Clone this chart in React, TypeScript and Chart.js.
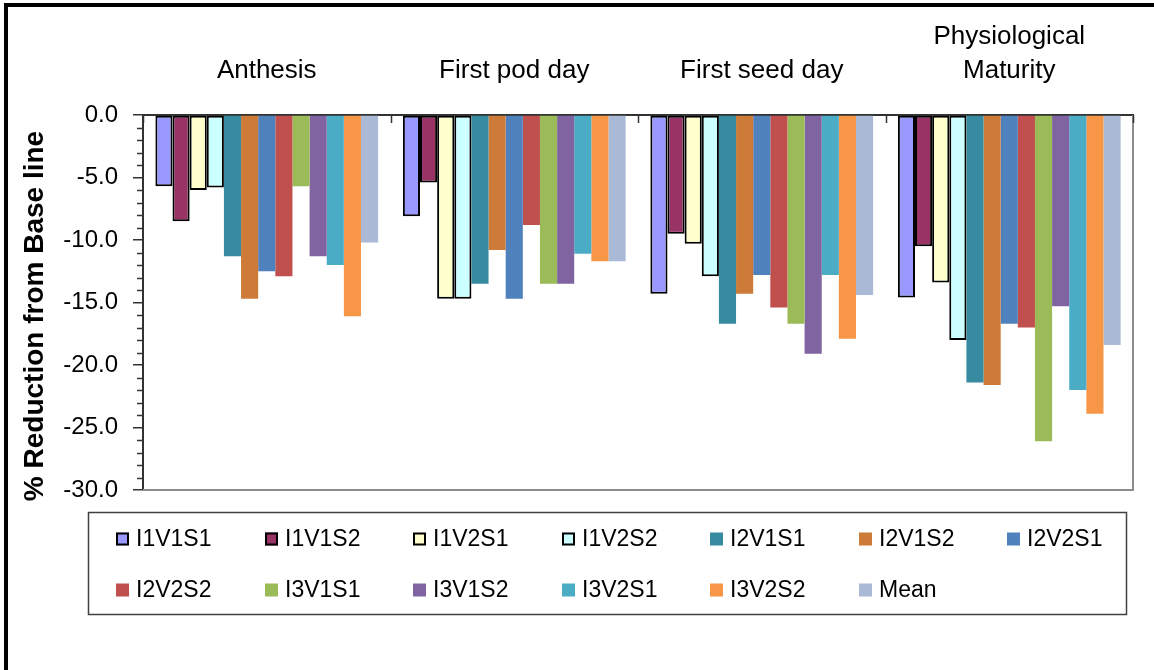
import React, { useEffect, useRef } from "react";
import { Chart, registerables } from "chart.js";

Chart.register(...registerables);

const categories: (string | string[])[] = [
  "Anthesis",
  "First pod day",
  "First seed day",
  ["Physiological", "Maturity"],
];

const seriesNames = [
  "I1V1S1", "I1V1S2", "I1V2S1", "I1V2S2", "I2V1S1", "I2V1S2", "I2V2S1",
  "I2V2S2", "I3V1S1", "I3V1S2", "I3V2S1", "I3V2S2", "Mean",
];

const I1V1S1 = [-5.7, -8.1, -14.3, -14.6];
const I1V1S2 = [-8.5, -5.4, -9.5, -10.5];
const I1V2S1 = [-6.0, -14.7, -10.3, -13.4];
const I1V2S2 = [-5.8, -14.7, -12.9, -18.0];
const I2V1S1 = [-11.3, -13.5, -16.7, -21.4];
const I2V1S2 = [-14.7, -10.8, -14.3, -21.6];
const I2V2S1 = [-12.5, -14.7, -12.8, -16.7];
const I2V2S2 = [-12.9, -8.8, -15.4, -17.0];
const I3V1S1 = [-5.7, -13.5, -16.7, -26.1];
const I3V1S2 = [-11.3, -13.5, -19.1, -15.3];
const I3V2S1 = [-12.0, -11.1, -12.8, -22.0];
const I3V2S2 = [-16.1, -11.7, -17.9, -23.9];
const Mean = [-10.2, -11.7, -14.4, -18.4];

const seriesValues = [
  I1V1S1, I1V1S2, I1V2S1, I1V2S2, I2V1S1, I2V1S2, I2V2S1,
  I2V2S2, I3V1S1, I3V1S2, I3V2S1, I3V2S2, Mean,
];

const seriesColors = [
  "#9999FF", "#993366", "#FFFFCC", "#CCFFFF", "#378BA0", "#CC7B38", "#4F81BD",
  "#C0504D", "#9BBB59", "#8064A2", "#4BACC6", "#F79646", "#A9B9D6",
];

const outlined = [true, true, true, true, false, false, false, false, false, false, false, false, false];

const yMin = -30;
const yMax = 0;
const yStep = 5;
const yTitle = "% Reduction from Base line";

const FONT = "'Liberation Sans', Arial, sans-serif";

const decorPlugin = {
  id: "decor",
  beforeDraw(chart: any) {
    const ctx = chart.ctx;
    ctx.save();
    ctx.fillStyle = "#ffffff";
    ctx.fillRect(0, 0, chart.width, chart.height);
    ctx.restore();
  },
  afterDraw(chart: any) {
    const ctx = chart.ctx;
    const area = chart.chartArea;
    const xs = chart.scales.x;
    const ys = chart.scales.y;
    ctx.save();

    // plot frame right and bottom
    ctx.strokeStyle = "#8c8c8c";
    ctx.lineWidth = 2;
    ctx.beginPath();
    ctx.moveTo(area.right, area.top);
    ctx.lineTo(area.right, area.bottom);
    ctx.lineTo(area.left, area.bottom);
    ctx.stroke();

    // minor y ticks
    ctx.strokeStyle = "#333333";
    ctx.lineWidth = 1.5;
    for (let v = yMin; v <= yMax; v += 1) {
      if (v % yStep === 0) continue;
      const py = Math.round(ys.getPixelForValue(v)) + 0.5;
      ctx.beginPath();
      ctx.moveTo(area.left - 6, py);
      ctx.lineTo(area.left, py);
      ctx.stroke();
    }

    // x ticks at category boundaries (pointing down)
    const n = categories.length;
    const cw = (area.right - area.left) / n;
    ctx.lineWidth = 1.5;
    for (let i = 0; i <= n; i++) {
      const px = Math.round(xs.getPixelForValue(i) - cw / 2) + 0.5;
      ctx.beginPath();
      ctx.moveTo(px, area.top);
      ctx.lineTo(px, area.top + 8);
      ctx.stroke();
    }

    // y title
    ctx.fillStyle = "#000000";
    ctx.font = `bold 28px ${FONT}`;
    ctx.textAlign = "center";
    ctx.textBaseline = "middle";
    ctx.translate(35, 316);
    ctx.rotate(-Math.PI / 2);
    ctx.fillText(yTitle, 0, 0);
    ctx.setTransform(1, 0, 0, 1, 0, 0);

    // legend
    const lx = 88, ly = 512, lw = 1038, lh = 102;
    ctx.strokeStyle = "#404040";
    ctx.lineWidth = 1.5;
    ctx.strokeRect(lx + 0.5, ly + 0.5, lw, lh);
    const cols = 7;
    const pitch = 148.5;
    const rowsY = [539, 590];
    ctx.font = `23px ${FONT}`;
    ctx.textAlign = "left";
    ctx.textBaseline = "middle";
    chart.data.datasets.forEach((ds: any, i: number) => {
      const col = i % cols;
      const row = Math.floor(i / cols);
      const bx = Math.round(116 + col * pitch);
      const by = rowsY[row];
      ctx.fillStyle = ds.backgroundColor;
      ctx.fillRect(bx, by - 6.5, 13, 13);
      if (ds.borderWidth > 0) {
        ctx.strokeStyle = "#000000";
        ctx.lineWidth = 2;
        ctx.strokeRect(bx + 1, by - 5.5, 11, 11);
      }
      ctx.fillStyle = "#000000";
      ctx.fillText(ds.label, bx + 20, by + 1);
    });

    // outer frame
    ctx.fillStyle = "#000000";
    ctx.fillRect(4, 3, 4, chart.height);
    ctx.fillRect(4, 3, chart.width, 4);

    ctx.restore();
  },
};

export default function App() {
  const ref = useRef<HTMLCanvasElement | null>(null);

  useEffect(() => {
    if (!ref.current) return;
    const datasets = seriesNames.map((name, i) => ({
      label: name,
      data: seriesValues[i],
      backgroundColor: seriesColors[i],
      borderColor: outlined[i] ? "#000000" : seriesColors[i],
      borderWidth: outlined[i] ? 2 : 0,
      borderSkipped: false as any,
      categoryPercentage: 0.9,
      barPercentage: 1.0,
    }));
    const chart = new Chart(ref.current, {
      type: "bar",
      data: { labels: categories as any, datasets },
      options: {
        responsive: false,
        animation: false,
        devicePixelRatio: 1,
        layout: { padding: { top: 0, left: 0, right: 21, bottom: 180 } },
        plugins: {
          legend: { display: false },
          tooltip: { enabled: false },
          title: { display: false },
        },
        scales: {
          x: {
            position: "top",
            offset: true,
            afterFit: (s: any) => { s.height = 115; },
            grid: { display: false, drawTicks: false, drawOnChartArea: false },
            border: { display: true, color: "#333333", width: 2 },
            ticks: {
              autoSkip: false,
              maxRotation: 0,
              minRotation: 0,
              padding: 27,
              color: "#000000",
              font: { family: FONT, size: 26, lineHeight: 1.3 },
            },
          },
          y: {
            min: yMin,
            max: yMax,
            afterFit: (s: any) => { s.width = 143; },
            grid: {
              display: true,
              drawOnChartArea: false,
              drawTicks: true,
              tickLength: 10,
              color: "#333333",
              lineWidth: 1.5,
            },
            border: { display: true, color: "#333333", width: 2 },
            ticks: {
              stepSize: yStep,
              padding: 15,
              color: "#000000",
              font: { family: FONT, size: 24 },
              callback: (v: any) => Number(v).toFixed(1),
            },
          },
        },
      },
      plugins: [decorPlugin],
    });
    return () => chart.destroy();
  }, []);

  return (
    <div style={{ position: "fixed", left: 0, top: 0, width: 1154, height: 670, background: "#fff" }}>
      <canvas ref={ref} width={1154} height={670} style={{ display: "block" }} />
    </div>
  );
}
